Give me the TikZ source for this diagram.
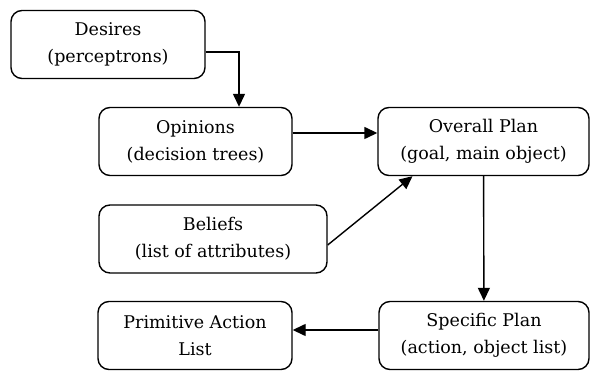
\documentclass[tikz,border=0pt]{standalone}
\usepackage{fontspec}
\setmainfont{DejaVu Serif}
\usetikzlibrary{arrows.meta}
\tikzstyle{box}=[draw,line width=1.4pt,rounded corners=11pt,align=center,minimum height=68pt,
  font=\fontsize{17.5}{27}\selectfont,inner sep=0pt]
\tikzstyle{link}=[line width=1.4pt,-{Triangle[length=13pt,width=12pt]}]

\begin{document}
\begin{tikzpicture}[x=1pt,y=-1pt]
			% Rahmen
			\useasboundingbox (0,0) rectangle (597,371);
			% Kaesten zeichnen
			\node[box,minimum width=194pt] (desires) at (108,44.5) {Desires\\(perceptrons)};
			\node[box,minimum width=193pt] (opinions) at (195.5,141.5) {Opinions\\(decision trees)};
			\node[box,minimum width=211pt] (overall) at (483.5,141.5) {Overall Plan\\(goal, main object)};
			\node[box,minimum width=228pt] (beliefs) at (213,239) {Beliefs\\(list of attributes)};
			\node[box,minimum width=210pt] (specific) at (484,335.5) {Specific Plan\\(action, object list)};
			\node[box,minimum width=194pt] (primitive) at (195,335.5) {Primitive Action\\List};
			% Pfeile zeichnen
			\draw[link] ([yshift=-7.5pt]desires.east) -| ([xshift=43.5pt]opinions.north);
			\draw[link] ([yshift=8.5pt]opinions.east) -- ([yshift=8.5pt]overall.west);
			\draw[link] ([yshift=-6pt]beliefs.east) -- ([xshift=-71pt]overall.south);
			\draw[link] (overall) -- (specific);
			\draw[link] ([yshift=5.5pt]specific.west) -- ([yshift=5.5pt]primitive.east);
		\end{tikzpicture}
\end{document}
